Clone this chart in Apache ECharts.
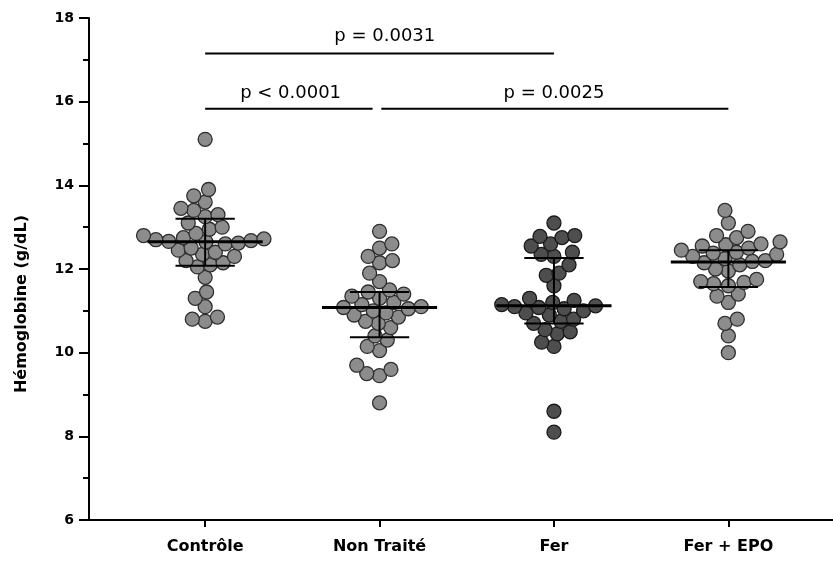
<!DOCTYPE html>
<html>
<head>
<meta charset="utf-8">
<script src="https://cdn.jsdelivr.net/npm/echarts@6/dist/echarts.min.js"></script>
<style>html,body{margin:0;padding:0;background:#fff}#c{width:833px;height:562px}</style>
</head>
<body>
<div id="c"></div>
<script>
const categories = ['Contrôle', 'Non Traité', 'Fer', 'Fer + EPO'];
const controle = [15.1, 13.9, 13.75, 13.6, 13.45, 13.4, 13.3, 13.25, 13.1, 13.0, 12.95,
  12.85, 12.8, 12.75, 12.72, 12.7, 12.68, 12.66, 12.65, 12.62, 12.6,
  12.5, 12.45, 12.4, 12.35, 12.3, 12.2, 12.15, 12.1, 12.05,
  11.8, 11.45, 11.3, 11.1, 10.85, 10.8, 10.75];
const nonTraite = [12.9, 12.6, 12.5, 12.3, 12.2, 12.15, 11.9, 11.7, 11.5, 11.45, 11.4, 11.35,
  11.3, 11.2, 11.15, 11.1, 11.08, 11.05, 11.0, 10.95, 10.9, 10.85, 10.75, 10.7, 10.6,
  10.4, 10.3, 10.15, 10.05, 9.7, 9.6, 9.5, 9.45, 8.8];
const fer = [13.1, 12.8, 12.78, 12.75, 12.6, 12.55, 12.4, 12.35, 12.3, 12.1, 11.9, 11.85,
  11.6, 11.3, 11.25, 11.2, 11.15, 11.12, 11.1, 11.08, 11.05, 11.0, 10.95, 10.9, 10.8,
  10.75, 10.7, 10.55, 10.5, 10.45, 10.25, 10.15, 8.6, 8.1];
const ferEpo = [13.4, 13.1, 12.9, 12.8, 12.75, 12.65, 12.6, 12.58, 12.55, 12.5, 12.45, 12.4,
  12.38, 12.35, 12.3, 12.25, 12.2, 12.18, 12.15, 12.1, 12.0, 11.95, 11.75, 11.7, 11.68,
  11.65, 11.6, 11.4, 11.35, 11.2, 10.8, 10.7, 10.4, 10.0];
const medians = [12.65, 11.08, 11.12, 12.17];
const q1 = [12.08, 10.37, 10.7, 11.57];
const q3 = [13.2, 11.45, 12.26, 12.45];
const yTicks = { min: 6, max: 18, interval: 2 };
const pLabels = ['p = 0.0031', 'p < 0.0001', 'p = 0.0025'];
const bracketFrom = [0, 0, 1.01];
const bracketTo = [2, 0.96, 3];
const bracketY = [17.15, 15.83, 15.83];
const labelX = [1.03, 0.49, 2.0];
const labelY = [17.57, 16.2, 16.2];

// layout
const W = 833, H = 562;
const G = { left: 89, right: 0, top: 18, bottom: 42 };
const xMin = -0.666, xMax = 3.6;
const xPx = (W - G.left - G.right) / (xMax - xMin);
const yPx = (H - G.top - G.bottom) / (yTicks.max - yTicks.min);
const DOT = 14, D = 13;

function swarm(values, gi) {
  const sorted = values.slice().sort((a, b) => a - b);
  const placed = [];
  const out = [];
  for (const v of sorted) {
    const yp = v * yPx;
    const cands = [0];
    for (const p of placed) {
      const dy = yp - p.y;
      if (Math.abs(dy) < D) {
        const dx = Math.sqrt(D * D - dy * dy);
        cands.push(p.x + dx, p.x - dx);
      }
    }
    cands.sort((a, b) => Math.abs(a) - Math.abs(b) || a - b);
    let chosen = 0;
    for (const c of cands) {
      let ok = true;
      for (const p of placed) {
        const dx = c - p.x, dy = yp - p.y;
        if (dx * dx + dy * dy < D * D - 0.01) { ok = false; break; }
      }
      if (ok) { chosen = c; break; }
    }
    placed.push({ x: chosen, y: yp });
    out.push([gi + chosen / xPx, v]);
  }
  return out;
}

const groups = [controle, nonTraite, fer, ferEpo];
const fills = ['#8c8c8c', '#8c8c8c', '#4e4e4e', '#8c8c8c'];
const borders = ['#2e2e2e', '#2e2e2e', '#1a1a1a', '#2e2e2e'];

const series = groups.map((g, i) => ({
  type: 'scatter',
  data: swarm(g, i),
  symbolSize: DOT,
  itemStyle: { color: fills[i], borderColor: borders[i], borderWidth: 1.3, opacity: 1 },
  z: 2,
  silent: true
}));

series.push({
  type: 'custom',
  z: 5,
  silent: true,
  data: categories.map((c, i) => [i, medians[i], q1[i], q3[i]]),
  renderItem: function (params, api) {
    const i = api.value(0), m = api.value(1), lo = api.value(2), hi = api.value(3);
    const ml = api.coord([i - 0.33, m]), mr = api.coord([i + 0.33, m]);
    const vt = api.coord([i, hi]), vb = api.coord([i, lo]);
    const cl1 = api.coord([i - 0.17, lo]), cr1 = api.coord([i + 0.17, lo]);
    const cl2 = api.coord([i - 0.17, hi]), cr2 = api.coord([i + 0.17, hi]);
    const st = { stroke: '#000', lineWidth: 2 };
    return {
      type: 'group',
      children: [
        { type: 'line', shape: { x1: vt[0], y1: vt[1], x2: vb[0], y2: vb[1] }, style: st },
        { type: 'line', shape: { x1: cl1[0], y1: cl1[1], x2: cr1[0], y2: cr1[1] }, style: st },
        { type: 'line', shape: { x1: cl2[0], y1: cl2[1], x2: cr2[0], y2: cr2[1] }, style: st },
        { type: 'line', shape: { x1: ml[0], y1: ml[1], x2: mr[0], y2: mr[1] }, style: { stroke: '#000', lineWidth: 3 } }
      ]
    };
  }
});

series.push({
  type: 'custom',
  z: 6,
  silent: true,
  clip: false,
  data: pLabels.map((p, i) => [bracketFrom[i], bracketTo[i], bracketY[i], labelX[i], labelY[i]]),
  renderItem: function (params, api) {
    const a = api.coord([api.value(0), api.value(2)]);
    const b = api.coord([api.value(1), api.value(2)]);
    const t = api.coord([api.value(3), api.value(4)]);
    return {
      type: 'group',
      children: [
        { type: 'line', shape: { x1: a[0], y1: a[1], x2: b[0], y2: b[1] }, style: { stroke: '#000', lineWidth: 2 } },
        { type: 'text', x: t[0], y: t[1], style: { text: pLabels[params.dataIndex], fill: '#000', font: '18px "DejaVu Sans"', align: 'center', verticalAlign: 'middle' } }
      ]
    };
  }
});

const chart = echarts.init(document.getElementById('c'), null, { renderer: 'canvas' });
chart.setOption({
  animation: false,
  backgroundColor: '#fff',
  grid: G,
  xAxis: {
    type: 'value',
    min: xMin,
    max: xMax,
    splitLine: { show: false },
    axisLine: { show: true, onZero: false, lineStyle: { color: '#000', width: 2 } },
    axisTick: { show: true, customValues: [0, 1, 2, 3], length: 7, lineStyle: { color: '#000', width: 2 } },
    axisLabel: {
      customValues: [0, 1, 2, 3],
      formatter: v => categories[Math.round(v)],
      color: '#000', fontFamily: 'DejaVu Sans', fontWeight: 'bold', fontSize: 16, margin: 19
    }
  },
  yAxis: {
    type: 'value',
    min: yTicks.min,
    max: yTicks.max,
    interval: yTicks.interval,
    splitLine: { show: false },
    axisLine: { show: true, onZero: false, lineStyle: { color: '#000', width: 2 } },
    axisTick: { show: true, length: 10, lineStyle: { color: '#000', width: 2 } },
    minorTick: { show: true, splitNumber: 2, length: 6, lineStyle: { color: '#000', width: 2 } },
    axisLabel: { color: '#000', fontFamily: 'DejaVu Sans', fontWeight: 'bold', fontSize: 14, margin: 15 }
  },
  graphic: [{
    type: 'text',
    x: 22, y: 304,
    rotation: Math.PI / 2,
    style: { text: 'Hémoglobine (g/dL)', fill: '#000', font: 'bold 16px "DejaVu Sans"', align: 'center', verticalAlign: 'middle' }
  }],
  series: series
});
</script>
</body>
</html>
